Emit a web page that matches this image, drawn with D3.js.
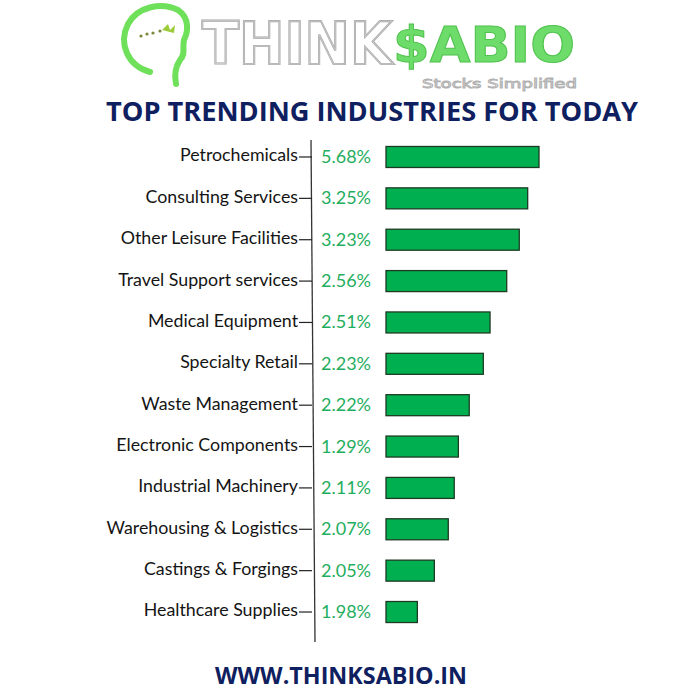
<!DOCTYPE html>
<html>
<head>
<meta charset="utf-8">
<script src="https://cdn.jsdelivr.net/npm/d3@7"></script>
<style>
  html, body { margin: 0; padding: 0; background: #ffffff; }
  svg { display: block; }
</style>
</head>
<body>
<div id="chart"></div>
<script>
// ---- data ----
const categories = [
  "Petrochemicals", "Consulting Services", "Other Leisure Facilities", "Travel Support services",
  "Medical Equipment", "Specialty Retail", "Waste Management", "Electronic Components",
  "Industrial Machinery", "Warehousing & Logistics", "Castings & Forgings", "Healthcare Supplies"
];
const changePct = [5.68, 3.25, 3.23, 2.56, 2.51, 2.23, 2.22, 1.29, 2.11, 2.07, 2.05, 1.98];
// relative bar lengths as drawn in the picture (0-100 scale; not proportional to the labels)
const barSizes = [100, 92.6, 87.1, 78.9, 68.0, 63.6, 54.4, 47.3, 44.6, 40.7, 31.6, 20.5];
const titleText = "TOP TRENDING INDUSTRIES FOR TODAY";
const footerText = "WWW.THINKSABIO.IN";

const W = 698, H = 700;
const svg = d3.select("#chart").append("svg").attr("width", W).attr("height", H);
svg.append("rect").attr("width", W).attr("height", H).attr("fill", "#fff");

// ---- logo ----
const logo = svg.append("g");
logo.append("path")
  .attr("d", "M150,72 C128,66 118,44 128,24 C138,6 162,2 178,10 C190,18 188,32 184,40 C182,48 186,54 180,60 C176,66 174,74 176,84")
  .attr("fill", "none").attr("stroke", "#6fe05a").attr("stroke-width", 6).attr("stroke-linecap", "round");
[[141,36],[147,34],[153,33],[160,31]].forEach(p =>
  logo.append("circle").attr("cx", p[0]).attr("cy", p[1]).attr("r", 1.6).attr("fill", "#7a8a3a"));
logo.append("path").attr("d", "M162,30 l6,-6 l2,6 l5,-5 l-1,8 z").attr("fill", "#9ccc3a");
logo.append("text").attr("x", 202).attr("y", 64).text("THINK")
  .attr("font-family", "DejaVu Sans").attr("font-weight", "bold").attr("font-size", 58)
  .attr("textLength", 190).attr("lengthAdjust", "spacingAndGlyphs")
  .attr("fill", "#fff").attr("stroke", "#a8a8a8").attr("stroke-width", 2.2);
logo.append("text").attr("x", 202).attr("y", 64).text("THINK")
  .attr("font-family", "DejaVu Sans").attr("font-weight", "bold").attr("font-size", 58)
  .attr("textLength", 190).attr("lengthAdjust", "spacingAndGlyphs")
  .attr("fill", "none").attr("stroke", "#cfcfcf").attr("stroke-width", 0.8).attr("opacity", 0.9);
logo.append("text").attr("x", 393).attr("y", 62).text("$ABIO")
  .attr("font-family", "DejaVu Sans").attr("font-weight", "bold").attr("font-size", 50)
  .attr("textLength", 182).attr("lengthAdjust", "spacingAndGlyphs")
  .attr("fill", "#6edc6a").attr("stroke", "#4fc24c").attr("stroke-width", 1);
logo.append("text").attr("x", 422).attr("y", 88).text("Stocks Simplified")
  .attr("font-family", "DejaVu Sans").attr("font-size", 13)
  .attr("textLength", 155).attr("lengthAdjust", "spacingAndGlyphs")
  .attr("fill", "#fff").attr("stroke", "#b0b0b0").attr("stroke-width", 0.9);

// ---- title ----
svg.append("text").attr("x", 372).attr("y", 121).attr("text-anchor", "middle")
  .text(titleText)
  .attr("font-family", "Open Sans").attr("font-weight", "bold").attr("font-size", 26)
  .attr("textLength", 532).attr("lengthAdjust", "spacingAndGlyphs")
  .attr("fill", "#0f2060");

// ---- chart ----
const axisX = 312;
const y = d3.scaleBand().domain(categories).range([136.3, 632.7]).paddingInner(0.49).paddingOuter(0.245);
const x = d3.scaleLinear().domain([0, 100]).range([0, 153]);
const barX = 386;

// axis line (slightly slanted as in the picture)
svg.append("line").attr("x1", 311).attr("y1", 140).attr("x2", 315).attr("y2", 642)
  .attr("stroke", "#333").attr("stroke-width", 1.3);

const yAxis = d3.axisLeft(y).tickSize(13).tickSizeOuter(0).tickPadding(1);
const gAxis = svg.append("g").attr("transform", `translate(${axisX},0)`).call(yAxis);
gAxis.select(".domain").remove();
gAxis.selectAll(".tick line").attr("stroke", "#222").attr("stroke-width", 1.2);
gAxis.selectAll(".tick text")
  .attr("font-family", "Lato").attr("font-size", 17.8).attr("fill", "#141414")
  .attr("dy", "0.25em");

const rows = categories.map((c, i) => ({ c, v: changePct[i], s: barSizes[i] }));

svg.append("g").selectAll("rect").data(rows).join("rect")
  .attr("x", barX)
  .attr("y", d => y(d.c) + (y.bandwidth() - 21) / 2)
  .attr("width", d => x(d.s))
  .attr("height", 21)
  .attr("fill", "#00b050")
  .attr("stroke", "#1d3b22").attr("stroke-width", 1.3);

svg.append("g").selectAll("text").data(rows).join("text")
  .attr("x", 321)
  .attr("y", d => y(d.c) + y.bandwidth() / 2 + 6)
  .text(d => d.v.toFixed(2) + "%")
  .attr("font-family", "Lato").attr("font-size", 18).attr("fill", "#1fae5e");

// ---- footer ----
svg.append("text").attr("x", 341).attr("y", 684).attr("text-anchor", "middle")
  .text(footerText)
  .attr("font-family", "Open Sans").attr("font-weight", "bold").attr("font-size", 23)
  .attr("textLength", 252).attr("lengthAdjust", "spacingAndGlyphs")
  .attr("fill", "#0f2060");
</script>
</body>
</html>
